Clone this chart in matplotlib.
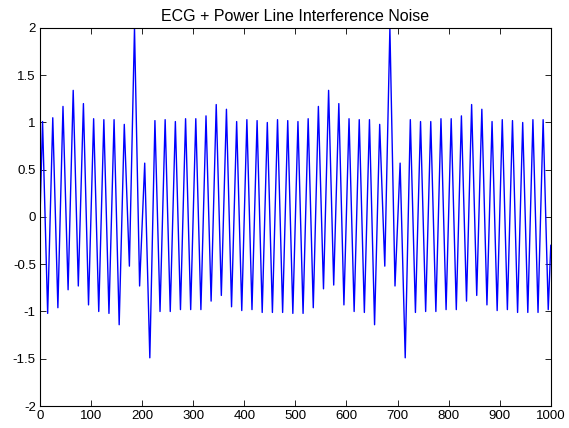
import matplotlib
matplotlib.use("Agg")
import matplotlib.pyplot as plt

# sample index of each drawn vertex (extremes of the 50 Hz hum + ends)
sample_n = [
    0, 5, 15, 25, 35, 45, 55, 65, 75, 85, 95,
    105, 115, 125, 135, 145, 155, 165, 175, 185, 195,
    205, 215, 225, 235, 245, 255, 265, 275, 285, 295,
    305, 315, 325, 335, 345, 355, 365, 375, 385, 395,
    405, 415, 425, 435, 445, 455, 465, 475, 485, 495,
    505, 515, 525, 535, 545, 555, 565, 575, 585, 595,
    605, 615, 625, 635, 645, 655, 665, 675, 685, 695,
    705, 715, 725, 735, 745, 755, 765, 775, 785, 795,
    805, 815, 825, 835, 845, 855, 865, 875, 885, 895,
    905, 915, 925, 935, 945, 955, 965, 975, 985, 995,
    1000,
]

# signal value at those samples
signal = [
    0.00, 1.01, -1.02, 1.05, -0.96, 1.17, -0.77, 1.34, -0.73, 1.20, -0.93,
    1.04, -1.00, 1.03, -1.02, 1.03, -1.14, 0.98, -0.52, 2.00, -0.73,
    0.57, -1.49, 1.02, -1.00, 1.03, -1.00, 1.01, -0.98, 1.04, -0.98,
    1.04, -0.98, 1.07, -0.89, 1.19, -0.83, 1.14, -0.95, 1.01, -0.99,
    1.03, -0.98, 1.02, -1.01, 1.00, -1.01, 1.03, -1.01, 1.02, -1.02,
    1.01, -1.02, 1.04, -0.96, 1.17, -0.76, 1.34, -0.72, 1.20, -0.93,
    1.04, -1.00, 1.03, -1.01, 1.03, -1.14, 0.98, -0.52, 2.00, -0.73,
    0.57, -1.49, 1.03, -1.01, 1.01, -1.00, 1.01, -1.00, 1.04, -0.98,
    1.04, -0.98, 1.07, -0.89, 1.19, -0.83, 1.14, -0.93, 1.01, -0.99,
    1.03, -0.98, 1.02, -1.01, 1.00, -1.01, 1.03, -1.01, 1.03, -0.98,
    -0.30,
]

x_ticks = [0, 100, 200, 300, 400, 500, 600, 700, 800, 900, 1000]
y_ticks = [-2, -1.5, -1, -0.5, 0, 0.5, 1, 1.5, 2]
y_labels = ["-2", "-1.5", "-1", "-0.5", "0", "0.5", "1", "1.5", "2"]

plt.rcParams["font.family"] = ["Liberation Sans", "DejaVu Sans"]

fig = plt.figure(figsize=(5.69, 4.28), dpi=100)
ax = fig.add_axes([0.0703, 0.0514, 0.8977, 0.8832])

ax.plot(sample_n, signal, color="#0000ff", lw=1.0)

ax.set_xlim(0, 1000)
ax.set_ylim(-2, 2)
ax.set_xticks(x_ticks)
ax.set_yticks(y_ticks)
ax.set_yticklabels(y_labels)
ax.tick_params(direction="in", length=4, width=0.6, top=True, right=True,
               labelsize=9.5, pad=3)
for s in ax.spines.values():
    s.set_linewidth(0.8)

ax.set_title("ECG + Power Line Interference Noise", fontsize=11.5, pad=5)

fig.savefig("out.png", dpi=100)
